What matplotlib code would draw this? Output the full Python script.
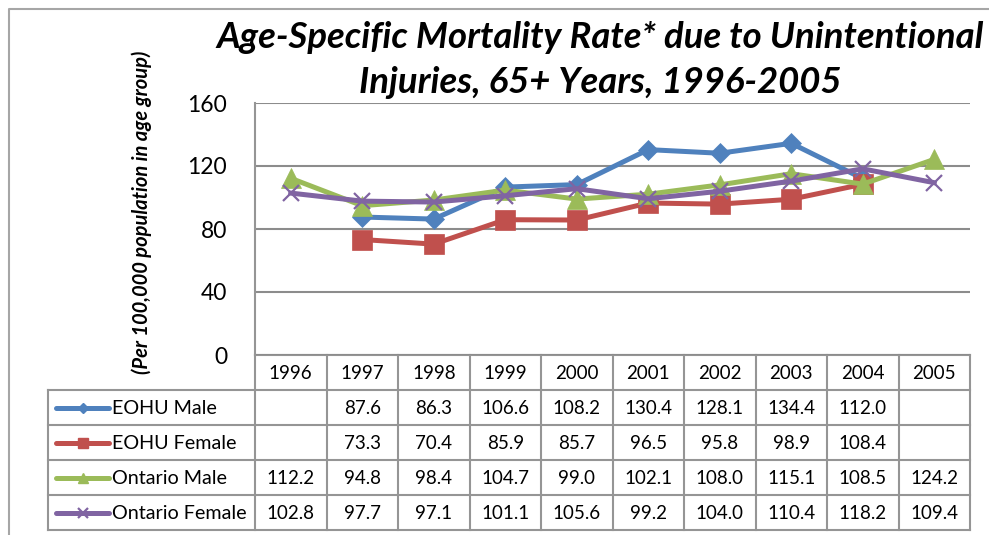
import matplotlib
matplotlib.use("Agg")
import matplotlib.pyplot as plt
import numpy as np

plt.rcParams['font.family'] = ['Lato', 'DejaVu Sans']

years = ['1996', '1997', '1998', '1999', '2000', '2001', '2002', '2003', '2004', '2005']
eohu_male = [None, 87.6, 86.3, 106.6, 108.2, 130.4, 128.1, 134.4, 112.0, None]
eohu_female = [None, 73.3, 70.4, 85.9, 85.7, 96.5, 95.8, 98.9, 108.4, None]
ont_male = [112.2, 94.8, 98.4, 104.7, 99.0, 102.1, 108.0, 115.1, 108.5, 124.2]
ont_female = [102.8, 97.7, 97.1, 101.1, 105.6, 99.2, 104.0, 110.4, 118.2, 109.4]

series = [
    ('EOHU Male', eohu_male, '#4F81BD', 'D', 10, 1),
    ('EOHU Female', eohu_female, '#C0504D', 's', 14, 1),
    ('Ontario Male', ont_male, '#9BBB59', '^', 14, 1),
    ('Ontario Female', ont_female, '#8064A2', 'x', 12, 1.6),
]

W, H = 989, 535
fig = plt.figure(figsize=(W / 100, H / 100), dpi=100)


def px(x0, y0, x1, y1):
    return [x0 / W, 1 - y1 / H, (x1 - x0) / W, (y1 - y0) / H]


grey = '#959595'

# overlay for borders and the data table
bg = fig.add_axes([0, 0, 1, 1])
bg.set_xlim(0, W)
bg.set_ylim(H, 0)
bg.axis('off')
bg.plot([9, 9, W + 5], [H + 5, 9, 9], color='#a6a6a6', lw=1.5)

# main plot area
left, right, top, bottom = 255, 970, 103, 355
ax = fig.add_axes(px(left, top, right, bottom))
x = np.arange(len(years))
for name, vals, col, mk, ms, mew in series:
    v = np.array([np.nan if a is None else a for a in vals])
    ax.plot(x, v, color=col, lw=3.6, marker=mk, markersize=ms,
            markeredgewidth=mew if mk == 'x' else 0.5, markeredgecolor=col,
            solid_joinstyle='round')
ax.set_xlim(-0.5, len(years) - 0.5)
ax.set_ylim(0, 160)
ax.set_yticks([0, 40, 80, 120, 160])
ax.set_xticks([])
ax.tick_params(axis='y', length=0, pad=20, labelsize=16.5)
ax.grid(axis='y', color='#8c8c8c', lw=1.5)
ax.set_axisbelow(True)
for s in ['top', 'right', 'bottom']:
    ax.spines[s].set_visible(False)
ax.spines['left'].set_color(grey)
ax.spines['left'].set_linewidth(1.5)
ax.patch.set_alpha(0)

fig.text(600 / W, 1 - 38 / H, 'Age-Specific Mortality Rate* due to Unintentional',
         ha='center', va='center', fontsize=26.3, fontweight='bold', style='italic')
fig.text(600 / W, 1 - 82 / H, 'Injuries, 65+ Years, 1996-2005',
         ha='center', va='center', fontsize=26.3, fontweight='bold', style='italic')
fig.text(142 / W, 1 - 212 / H, '(Per 100,000 population in age group)',
         ha='center', va='center', rotation=90, fontsize=14.5, fontweight='bold',
         style='italic')

# data table
row_h = 35
tab_left = 48
col_w = (right - left) / len(years)
rows_y = [bottom + i * row_h for i in range(6)]
lw = 1.5
# horizontal lines
bg.plot([left, right], [rows_y[0], rows_y[0]], color=grey, lw=lw)
for yy in rows_y[1:]:
    bg.plot([tab_left, right], [yy, yy], color=grey, lw=lw)
# vertical lines
bg.plot([tab_left, tab_left], [rows_y[1], rows_y[-1]], color=grey, lw=lw)
for i in range(len(years) + 1):
    xx = left + i * col_w
    bg.plot([xx, xx], [rows_y[0], rows_y[-1]], color=grey, lw=lw)

for i, yr in enumerate(years):
    bg.text(left + (i + 0.5) * col_w, rows_y[0] + row_h / 2 + 1, yr,
            ha='center', va='center', fontsize=13.5)

for r, (name, vals, col, mk, ms, mew) in enumerate(series):
    yc = rows_y[r + 1] + row_h / 2
    bg.plot([56, 109], [yc, yc], color=col, lw=3.6, solid_capstyle='round')
    bg.plot([82.5], [yc], color=col, marker=mk, markersize=ms * 0.55,
            markeredgewidth=mew, markeredgecolor=col)
    bg.text(112, yc + 1, name, ha='left', va='center', fontsize=14.2)
    for i, v in enumerate(vals):
        if v is not None:
            bg.text(left + (i + 0.5) * col_w, yc + 1, f'{v:.1f}',
                    ha='center', va='center', fontsize=13.5)

fig.savefig('out.png', dpi=100)
